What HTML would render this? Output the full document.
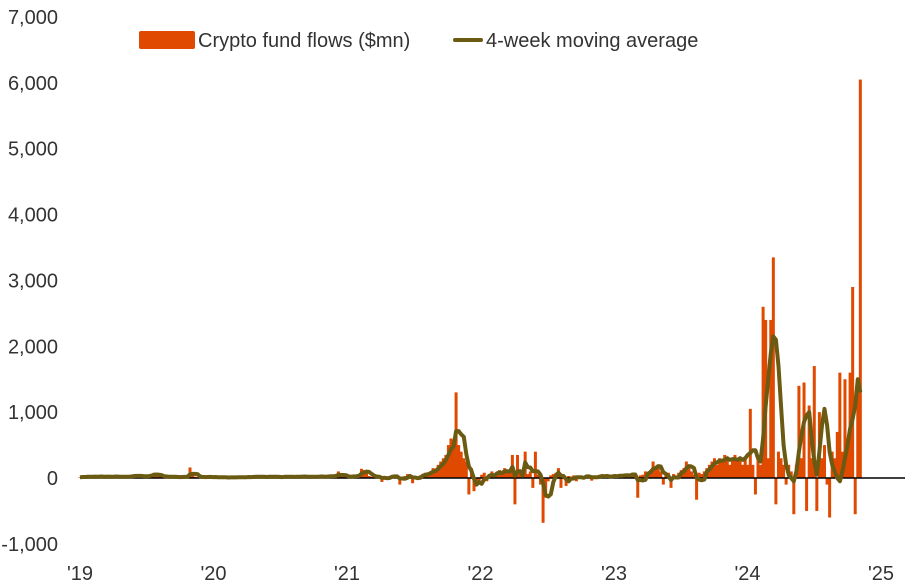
<!DOCTYPE html>
<html><head><meta charset="utf-8"><style>
html,body{margin:0;padding:0;background:#fff;}
svg{display:block;font-family:"Liberation Sans Narrow","Liberation Sans",sans-serif;}
</style></head><body>
<svg id="chart" width="909" height="586" viewBox="0 0 909 586">
<g id="yaxis"></g>
<g id="xaxis"></g>
<g id="bars"></g>
<line id="zero" stroke="#000" stroke-width="1.5"/>
<path id="ma" fill="none" stroke="#6b5a12" stroke-width="4" stroke-linejoin="round"/>
<g>
 <rect x="139" y="31" width="56" height="18" rx="2" fill="#e04a00"/>
 <text x="198" y="47" font-size="20" fill="#333">Crypto fund flows ($mn)</text>
 <line x1="455" y1="40" x2="481" y2="40" stroke="#6b5a12" stroke-width="4" stroke-linecap="round"/>
 <text x="486" y="47" font-size="20" fill="#333">4-week moving average</text>
</g>
</svg>
<script>
const yTicks=[-1000,0,1000,2000,3000,4000,5000,6000,7000];
const yTickLabels=["-1,000","0","1,000","2,000","3,000","4,000","5,000","6,000","7,000"];
const xTickYears=[0,1,2,3,4,5,6];
const xTickLabels=["'19","'20","'21","'22","'23","'24","'25"];
const flows2019=[10,20,15,30,10,25,20,15,30,20,10,25,15,20,30,20,10,15,25,30,20,40,35,30,20,25,30,40,50,80,40,30,20,15,25,20,10,15,20,10,15,20,30,160,40,20,10,15,20,10,15,20];
const flows2020=[10,15,5,10,20,10,-10,15,20,10,5,15,10,20,15,10,20,25,15,10,20,15,25,20,10,15,20,10,25,20,15,10,20,30,20,15,25,20,10,15,30,20,25,15,20,30,40,20,30,100,30,20];
const flows2021=[20,30,10,40,30,50,140,120,80,30,20,10,30,20,-60,20,10,30,20,40,10,-100,20,30,60,20,-80,30,20,40,50,80,60,100,150,120,200,250,300,350,500,600,450,1300,500,400,300,250,-250,150,-200,-100];
const flows2022=[-100,50,80,-50,60,100,40,80,120,60,150,80,100,350,-400,350,120,80,400,60,100,-150,400,50,-100,-680,-300,-50,40,60,80,150,-150,40,-120,30,20,40,-50,30,20,10,40,30,-40,20,30,50,20,10,40,20];
const flows2023=[20,40,30,50,20,60,40,30,80,60,-300,40,50,100,80,120,250,150,200,100,-100,50,80,-150,60,40,80,120,150,250,200,100,50,-330,80,60,100,150,200,250,300,200,300,250,350,300,200,300,350,250,300,200];
const flows2024=[300,200,1050,200,-250,300,200,2600,2400,300,2400,3350,-400,400,300,200,-100,200,100,-550,200,1400,300,1450,-500,1100,300,1700,-500,1000,300,500,-100,-600,400,300,700,1600,400,1500,600,1600,2900,-550,1500,6050];
const ma2024=[300,350,380,420,420,300,250,600,1100,1500,1900,2150,2100,1700,1100,500,200,50,0,-50,100,400,650,850,950,1000,600,250,50,400,800,1050,800,400,200,100,0,-50,100,300,500,750,900,1100,1500,1300];
const flows=[].concat(flows2019,flows2020,flows2021,flows2022,flows2023,flows2024);

const NS="http://www.w3.org/2000/svg";
const X0=80, YEARW=133.5, WPY=52.18;
const yS=v=>478-v*(461/7000);
const xS=w=>X0+w*(YEARW/WPY);
function el(t,a,p){const e=document.createElementNS(NS,t);for(const k in a)e.setAttribute(k,a[k]);p.appendChild(e);return e;}
const ya=document.getElementById('yaxis');
yTicks.forEach((v,i)=>{const t=el('text',{x:58,y:yS(v)+7,'text-anchor':'end','font-size':20,fill:'#333'},ya);


t.textContent=yTickLabels[i];});
const xa=document.getElementById('xaxis');
xTickYears.forEach((y,i)=>{const t=el('text',{x:X0+y*YEARW,y:580,'text-anchor':'middle','font-size':20,fill:'#333'},xa);


t.textContent=xTickLabels[i];});
const bg=document.getElementById('bars');
flows.forEach((v,w)=>{const y0=yS(0),y1=yS(v);const r=el('rect',{x:xS(w)-1.5,y:Math.min(y0,y1),width:3,height:Math.max(0.5,Math.abs(y1-y0)),fill:'#e04a00'},bg);

});
const z=document.getElementById('zero');z.setAttribute('x1',X0);z.setAttribute('x2',905);z.setAttribute('y1',yS(0));z.setAttribute('y2',yS(0));
const start2024=flows.length-flows2024.length;
let d='';
flows.forEach((v,w)=>{let m;
if(w>=start2024){m=ma2024[w-start2024];}
else{const s=flows.slice(Math.max(0,w-3),w+1);m=s.reduce((a,b)=>a+b,0)/s.length;}
d+=(w?'L':'M')+xS(w).toFixed(1)+','+yS(m).toFixed(1);});
document.getElementById('ma').setAttribute('d',d);
</script>
</body></html>
